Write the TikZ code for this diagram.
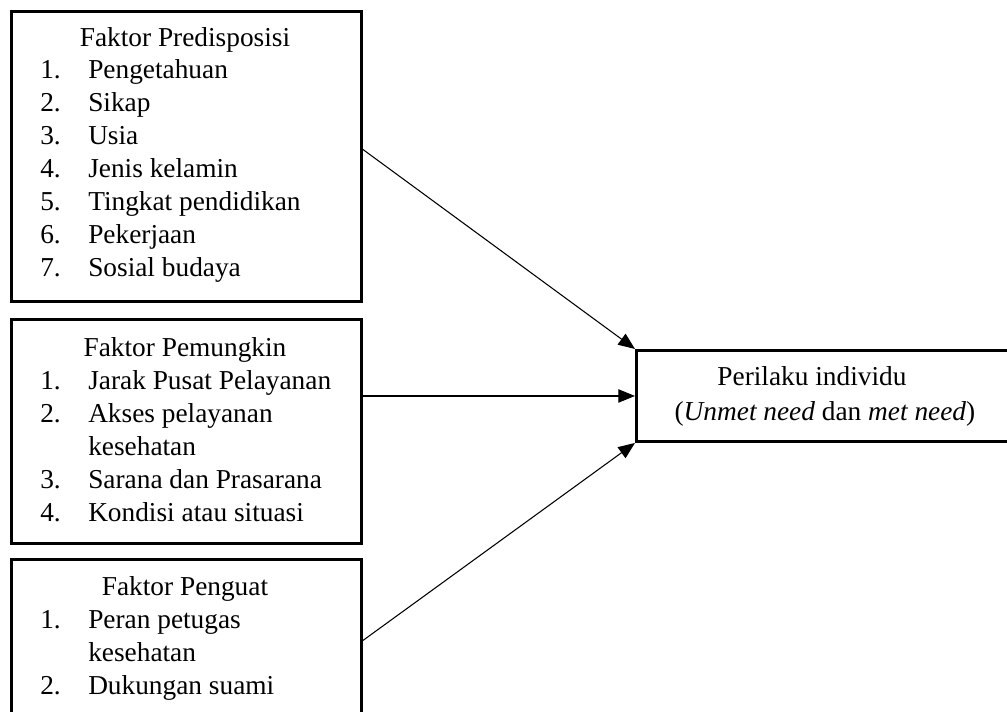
\documentclass[tikz,border=0pt]{standalone}
\usepackage{fontspec}
\setmainfont{Liberation Serif}
\usetikzlibrary{arrows.meta}
\tikzset{>={Triangle[length=12.5pt,width=10pt]}}
\tikzset{box/.style={draw,line width=2.2pt,inner sep=0pt,anchor=north west},
  txt/.style={inner sep=0pt,font=\fontsize{20.5}{24.75}\selectfont}}
\newcommand{\faktorlist}[1]{\begin{tabular}[t]{@{}p{36pt}@{}l@{}}#1\end{tabular}}

\begin{document}
\begin{tikzpicture}[x=0.75pt,y=-0.75pt]
\useasboundingbox (0,0) rectangle (1007,711);
\node[box,minimum width=262.5pt,minimum height=217.5pt] (pre) at (10,10) {};
\node[box,minimum width=262.5pt,minimum height=168pt] (pem) at (10,318) {};
\node[box,minimum width=262.5pt,minimum height=121.5pt] (pen) at (10,558) {};
\node[txt,anchor=base] (pretitle) at (185,46) {Faktor Predisposisi};
\node[txt,anchor=base west] (prelist) at (40,78) {\faktorlist{1. & Pengetahuan\\ 2. & Sikap\\ 3. & Usia\\ 4. & Jenis kelamin\\ 5. & Tingkat pendidikan\\ 6. & Pekerjaan\\ 7. & Sosial budaya}};
\node[txt,anchor=base] (pemtitle) at (185,356) {Faktor Pemungkin};
\node[txt,anchor=base west] (pemlist) at (40,389) {\faktorlist{1. & Jarak Pusat Pelayanan\\ 2. & Akses pelayanan\\ & kesehatan\\ 3. & Sarana dan Prasarana\\ 4. & Kondisi atau situasi}};
\node[txt,anchor=base] (pentitle) at (185,595) {Faktor Penguat};
\node[txt,anchor=base west] (penlist) at (40,628) {\faktorlist{1. & Peran petugas\\ & kesehatan\\ 2. & Dukungan suami}};
\node[box,txt,align=center,minimum width=282.75pt,minimum height=68.25pt] (beh) at (635,349) {Perilaku individu\hspace*{19.5pt}\\[1.5pt](\textit{Unmet need} dan \textit{met need})};
\draw[->,line width=0.8pt] ([yshift=5.25pt]pre.east) -- (beh.north west);
\draw[->,line width=0.8pt] (pem.east |- beh.west) -- (beh.west);
\draw[->,line width=0.8pt] (pen.east) -- (beh.south west);
\end{tikzpicture}
\end{document}
